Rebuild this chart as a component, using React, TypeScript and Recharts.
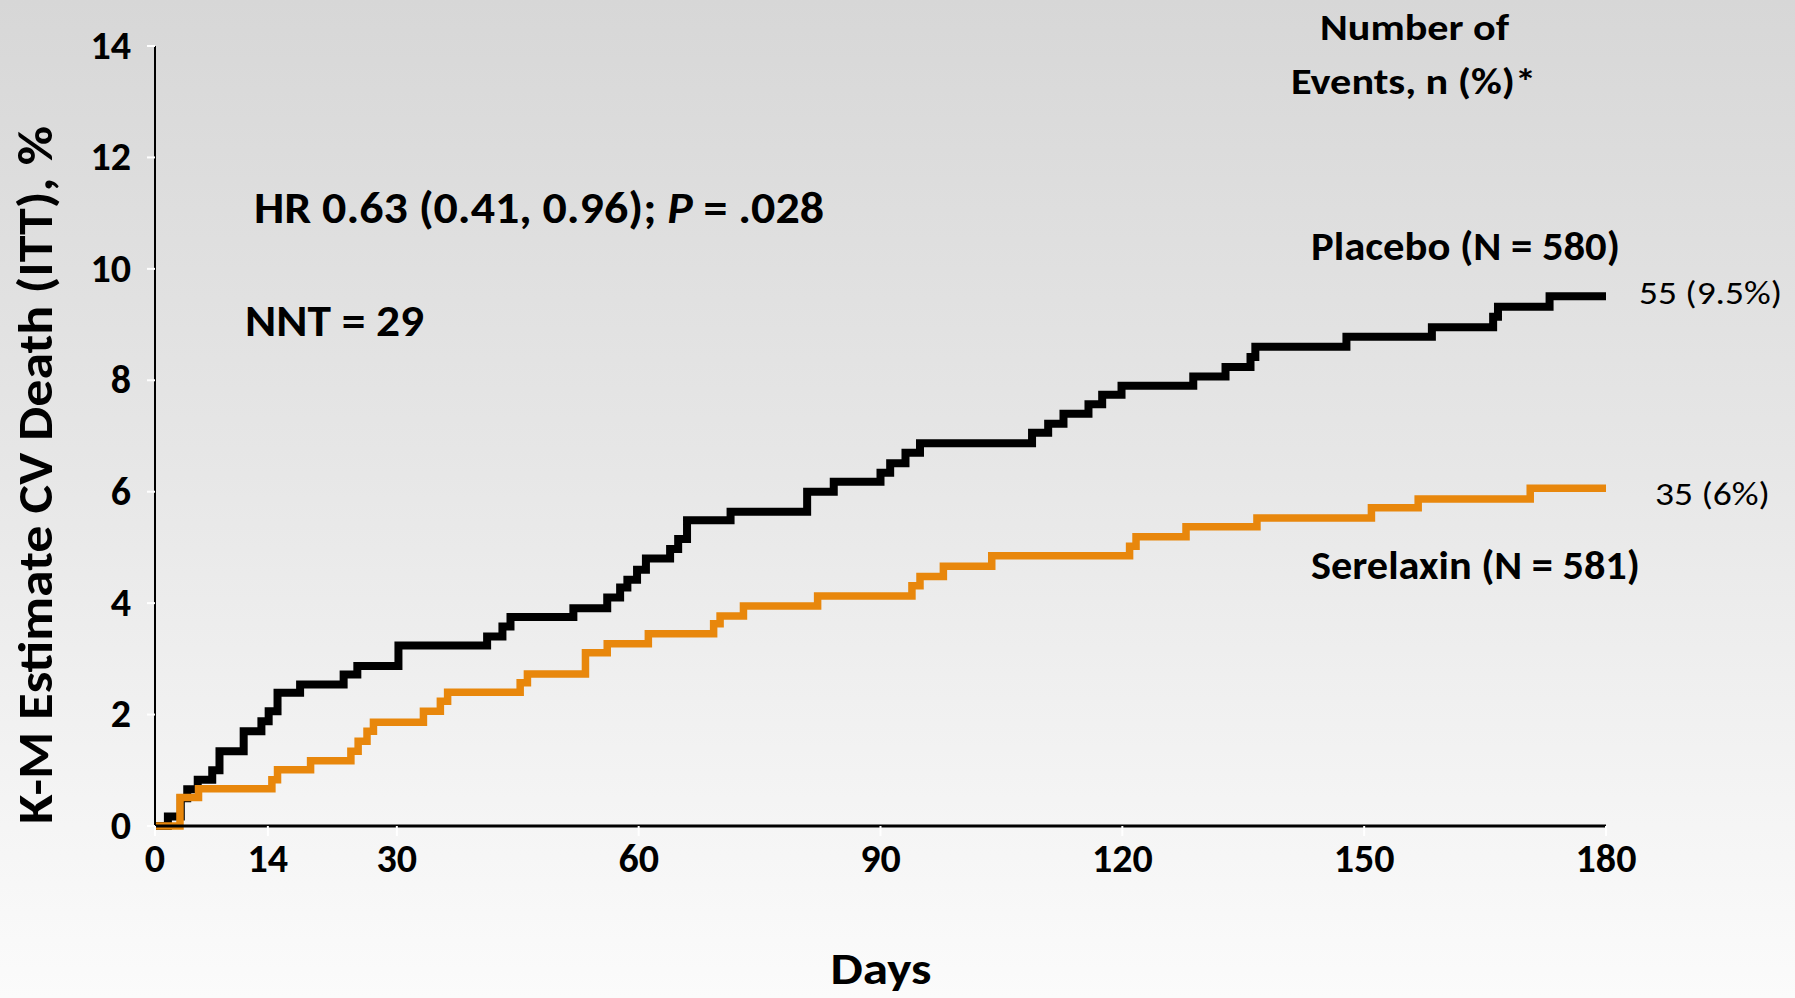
import React from "react";
import { LineChart, Line, XAxis, YAxis } from "recharts";

const xTicks = [0, 14, 30, 60, 90, 120, 150, 180];
const yTicks = [0, 2, 4, 6, 8, 10, 12, 14];

const placeboDays = [0, 1.6, 3.2, 4.0, 5.3, 7.1, 8.0, 11.0, 13.2, 14.1, 15.2, 18.0, 23.4, 25.1, 30.2, 41.2, 43.1, 44.1, 51.9, 56.1, 57.7, 58.6, 59.8, 60.9, 63.9, 64.9, 66.0, 71.4, 80.9, 84.2, 90.0, 91.2, 93.1, 94.9, 108.8, 110.8, 112.7, 115.8, 117.5, 119.9, 128.8, 132.8, 135.9, 136.5, 147.8, 158.4, 166.0, 166.6, 173.0, 180];
const placeboPct = [0, 0.17, 0.5, 0.66, 0.83, 1.0, 1.34, 1.7, 1.88, 2.06, 2.39, 2.54, 2.72, 2.87, 3.24, 3.4, 3.58, 3.75, 3.91, 4.1, 4.28, 4.42, 4.6, 4.8, 4.97, 5.15, 5.49, 5.64, 6.0, 6.18, 6.34, 6.51, 6.7, 6.87, 7.06, 7.22, 7.4, 7.57, 7.74, 7.9, 8.07, 8.24, 8.42, 8.6, 8.78, 8.95, 9.14, 9.32, 9.51, 9.51];

const serelaxinDays = [0, 3.1, 5.4, 14.5, 15.2, 19.3, 24.3, 25.2, 26.3, 27.1, 33.3, 35.4, 36.3, 45.3, 46.2, 53.4, 56.1, 61.2, 69.3, 70.1, 73.0, 82.2, 93.9, 94.9, 97.8, 103.8, 120.9, 121.7, 127.9, 136.7, 150.9, 156.7, 170.6, 180];
const serelaxinPct = [0, 0.51, 0.67, 0.83, 1.01, 1.17, 1.34, 1.52, 1.7, 1.86, 2.06, 2.24, 2.4, 2.57, 2.73, 3.11, 3.27, 3.45, 3.63, 3.77, 3.95, 4.13, 4.31, 4.48, 4.66, 4.85, 5.02, 5.19, 5.37, 5.53, 5.71, 5.87, 6.06, 6.06];

const placeboData = placeboDays.map((d, i) => ({ day: d, pct: placeboPct[i] }));
const serelaxinData = serelaxinDays.map((d, i) => ({ day: d, pct: serelaxinPct[i] }));

const FONT = "Carlito, 'Liberation Sans', Arial, sans-serif";
const ORANGE = "#E8870C";

const XTick = (props: any) => {
  const { x, y, payload } = props;
  return (
    <text x={x} y={y} dy="0.66em" textAnchor="middle" fontFamily={FONT} fontWeight="bold" fontSize={40} fill="#000">
      {payload.value}
    </text>
  );
};

const YTick = (props: any) => {
  const { x, y, payload } = props;
  return (
    <text x={x} y={y} dy="0.32em" textAnchor="end" fontFamily={FONT} fontWeight="bold" fontSize={40} fill="#000">
      {payload.value}
    </text>
  );
};

export default function App() {
  const W = 1795;
  const H = 998;
  return (
    <div
      style={{
        position: "absolute",
        left: 0,
        top: 0,
        width: W,
        height: H,
        background: "linear-gradient(to bottom, #d7d7d7 0%, #e6e6e6 45%, #f4f4f4 80%, #fbfbfb 100%)",
        fontFamily: FONT,
      }}
    >
      <LineChart width={W} height={H} margin={{ top: 46, right: 189, left: 0, bottom: 0 }}>
        <XAxis
          dataKey="day"
          type="number"
          domain={[0, 180]}
          ticks={xTicks}
          height={172}
          axisLine={{ stroke: "#000", strokeWidth: 3 }}
          tickLine={{ stroke: "#ffffff", strokeWidth: 2 }}
          tickSize={10}
          tickMargin={10}
          tick={<XTick />}
          interval={0}
        />
        <YAxis
          type="number"
          domain={[0, 14]}
          ticks={yTicks}
          width={155}
          axisLine={{ stroke: "#000", strokeWidth: 2 }}
          tickLine={{ stroke: "#ffffff", strokeWidth: 2 }}
          tickSize={8}
          tickMargin={16}
          tick={<YTick />}
          interval={0}
        />
        <Line
          data={placeboData}
          dataKey="pct"
          type="stepAfter"
          stroke="#000"
          strokeWidth={8}
          strokeLinejoin="miter"
          strokeLinecap="butt"
          dot={false}
          activeDot={false}
          isAnimationActive={false}
        />
        <Line
          data={serelaxinData}
          dataKey="pct"
          type="stepAfter"
          stroke={ORANGE}
          strokeWidth={7.5}
          strokeLinejoin="miter"
          strokeLinecap="butt"
          dot={false}
          activeDot={false}
          isAnimationActive={false}
        />
      </LineChart>
      <svg
        width={W}
        height={H}
        style={{ position: "absolute", left: 0, top: 0, pointerEvents: "none" }}
      >
        <g fontFamily={FONT} fontWeight="bold" fill="#000">
          <text
            transform="translate(52,475) rotate(-90)"
            textAnchor="middle"
            fontSize={48}
            textLength={698}
            lengthAdjust="spacingAndGlyphs"
          >
            K-M Estimate CV Death (ITT),  %
          </text>
          <text x={254} y={223} fontSize={45} textLength={570} lengthAdjust="spacingAndGlyphs">
            HR 0.63 (0.41, 0.96); <tspan fontStyle="italic">P</tspan> = .028
          </text>
          <text x={245} y={336} fontSize={45} textLength={179} lengthAdjust="spacingAndGlyphs">
            NNT = 29
          </text>
          <text x={1320} y={40} fontSize={36} textLength={189} lengthAdjust="spacingAndGlyphs">
            Number of
          </text>
          <text x={1291} y={94} fontSize={36} textLength={245} lengthAdjust="spacingAndGlyphs">
            Events, n (%)*
          </text>
          <text x={1311} y={260} fontSize={40} textLength={309} lengthAdjust="spacingAndGlyphs">
            Placebo (N = 580)
          </text>
          <text x={1639} y={304} fontSize={33} fontWeight="normal" textLength={143} lengthAdjust="spacingAndGlyphs">
            55 (9.5%)
          </text>
          <text x={1655} y={505} fontSize={33} fontWeight="normal" textLength={115} lengthAdjust="spacingAndGlyphs">
            35 (6%)
          </text>
          <text x={1311} y={579} fontSize={40} textLength={329} lengthAdjust="spacingAndGlyphs">
            Serelaxin (N = 581)
          </text>
          <text x={881} y={984} fontSize={44} textAnchor="middle" textLength={101} lengthAdjust="spacingAndGlyphs">
            Days
          </text>
        </g>
      </svg>
    </div>
  );
}
